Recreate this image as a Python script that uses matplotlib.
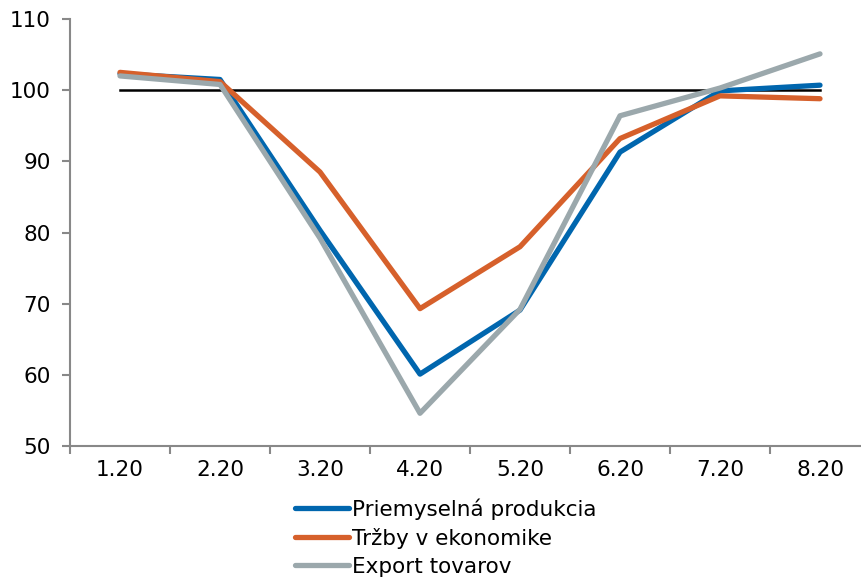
import numpy as np
import matplotlib
matplotlib.use("Agg")
from matplotlib import pyplot as plt

# Data
months = ['1.20', '2.20', '3.20', '4.20', '5.20', '6.20', '7.20', '8.20']
priemysel = [102.3, 101.5, 80.3, 60.1, 69.1, 91.3, 99.9, 100.7]
trzby = [102.5, 101.2, 88.5, 69.3, 78.0, 93.2, 99.2, 98.8]
export = [102.0, 100.8, 79.2, 54.6, 69.2, 96.4, 100.3, 105.1]
baseline = [100] * len(months)

plt.rcParams['font.family'] = ['DejaVu Sans']

fig = plt.figure(figsize=(8.61, 5.77), dpi=100)
ax = fig.add_axes([70 / 861, 131 / 577, 800 / 861, 427 / 577])

x = np.arange(len(months))
lw = 3.8
ax.plot(x, baseline, color='black', linewidth=1.8, zorder=1)
ax.plot(x, priemysel, color='#0066AE', linewidth=lw, solid_capstyle='round',
        label='Priemyselná produkcia', zorder=2)
ax.plot(x, trzby, color='#D6602B', linewidth=lw, solid_capstyle='round',
        label='Tržby v ekonomike', zorder=3)
ax.plot(x, export, color='#9BA8AC', linewidth=lw, solid_capstyle='round',
        label='Export tovarov', zorder=4)

ax.set_xlim(-0.5, len(months) - 0.5)
ax.set_ylim(50, 110)
ax.set_yticks(range(50, 111, 10))
ax.set_xticks(x)
ax.set_xticklabels(months)
ax.set_xticks(np.arange(-0.5, len(months), 1), minor=True)

fs = 15.5
ax.tick_params(axis='x', which='major', length=0, pad=10, labelsize=fs)
ax.tick_params(axis='x', which='minor', length=6, width=1.5, color='#888888', direction='out')
ax.tick_params(axis='y', length=6, width=1.5, color='#888888', pad=8, labelsize=fs)

for side in ['top', 'right']:
    ax.spines[side].set_visible(False)
for side in ['left', 'bottom']:
    ax.spines[side].set_color('#888888')
    ax.spines[side].set_linewidth(1.5)

fig.legend(loc='upper left', bbox_to_anchor=(295 / 861, 79 / 577), frameon=False,
           fontsize=fs, handlelength=2.5, handletextpad=0.15, labelspacing=0.38,
           borderaxespad=0, borderpad=0)

fig.savefig('out.png', dpi=100)
